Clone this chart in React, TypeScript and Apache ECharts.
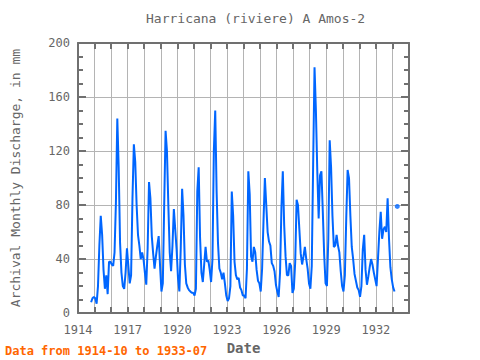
import React, { useEffect, useRef } from "react";
import * as echarts from "echarts";

// Monthly discharge (mm), first month = 1914-10
const START_YEAR = 1914;
const START_MONTH = 10;
const v1914 = [8, 11, 12];
const v1915 = [11, 7, 20, 50, 72, 58, 32, 18, 28, 14, 38, 38];
const v1916 = [36, 35, 45, 82, 144, 108, 52, 30, 20, 18, 30, 48];
const v1917 = [35, 22, 28, 85, 125, 112, 80, 58, 50, 40, 45, 40];
const v1918 = [30, 21, 48, 97, 85, 57, 44, 33, 42, 50, 57, 35];
const v1919 = [16, 22, 80, 135, 120, 80, 45, 31, 50, 77, 62, 47];
const v1920 = [26, 16, 48, 92, 72, 36, 22, 19, 17, 16, 15, 15];
const v1921 = [13, 18, 90, 108, 56, 30, 23, 36, 49, 38, 39, 32];
const v1922 = [23, 40, 120, 150, 90, 52, 33, 30, 25, 30, 22, 13];
const v1923 = [9, 11, 20, 90, 72, 38, 28, 25, 26, 19, 17, 13];
const v1924 = [13, 11, 33, 105, 88, 42, 38, 49, 45, 32, 24, 22];
const v1925 = [16, 33, 68, 100, 80, 60, 53, 50, 37, 35, 31, 21];
const v1926 = [16, 12, 30, 78, 105, 65, 42, 28, 28, 37, 35, 15];
const v1927 = [18, 38, 84, 80, 62, 44, 36, 42, 49, 40, 33, 22];
const v1928 = [18, 35, 110, 182, 150, 105, 70, 102, 105, 75, 43, 22];
const v1929 = [20, 55, 128, 108, 72, 49, 50, 58, 50, 45, 31, 20];
const v1930 = [16, 28, 70, 106, 100, 72, 49, 40, 29, 24, 19, 17];
const v1931 = [12, 20, 47, 58, 32, 21, 27, 34, 40, 36, 30, 25];
const v1932 = [20, 40, 60, 75, 55, 62, 64, 60, 85, 55, 34, 25];
const v1933 = [19, 16, null, 79, null, null, null];

const yearLabels = [1914, 1917, 1920, 1923, 1926, 1929, 1932];

const allValues: (number | null)[] = [
  ...v1914, ...v1915, ...v1916, ...v1917, ...v1918, ...v1919, ...v1920,
  ...v1921, ...v1922, ...v1923, ...v1924, ...v1925, ...v1926, ...v1927,
  ...v1928, ...v1929, ...v1930, ...v1931, ...v1932, ...v1933,
];

function buildData() {
  const line: [number, number | null][] = [];
  allValues.forEach((v, i) => {
    const m = START_MONTH - 1 + i;
    const yr = START_YEAR + Math.floor(m / 12);
    const mo = m % 12;
    line.push([yr + (mo + 0.5) / 12, v]);
  });
  const isolated: [number, number][] = [];
  line.forEach((p, i) => {
    const prev = i > 0 ? line[i - 1][1] : null;
    const next = i < line.length - 1 ? line[i + 1][1] : null;
    if (p[1] != null && prev == null && next == null) isolated.push([p[0], p[1] as number]);
  });
  return { line, isolated };
}

const FONT = "DejaVu Sans Mono";
const FRAME = "#707070";
const GRIDC = "#b4b4b4";
const TXT = "#666666";
const BLUE = "#0066ff";

export default function App() {
  const ref = useRef<HTMLDivElement>(null);
  useEffect(() => {
    if (!ref.current) return;
    const chart = echarts.init(ref.current, undefined, { renderer: "svg" });
    const { line, isolated } = buildData();
    const xCommon = {
      type: "value" as const,
      min: 1914,
      max: 1934,
      interval: 1,
      axisLine: { show: true, onZero: false, lineStyle: { color: FRAME, width: 2 } },
      axisTick: { show: true, inside: true, length: 6, lineStyle: { color: FRAME, width: 2 } },
    };
    const yCommon = {
      type: "value" as const,
      min: 0,
      max: 200,
      interval: 40,
      axisLine: { show: true, lineStyle: { color: FRAME, width: 2 } },
      axisTick: { show: true, inside: true, length: 8, lineStyle: { color: FRAME, width: 2 } },
      minorTick: { show: true, splitNumber: 4, length: 5, lineStyle: { color: FRAME, width: 2 } },
    };
    chart.setOption({
      animation: false,
      backgroundColor: "#ffffff",
      title: {
        text: "Harricana (riviere) A Amos-2",
        left: 141,
        top: 7,
        textStyle: { fontFamily: FONT, fontSize: 13, fontWeight: "normal", color: TXT },
      },
      grid: { left: 78, right: 71, top: 43, bottom: 38 },
      xAxis: [
        {
          ...xCommon,
          position: "bottom",
          name: "Date",
          nameLocation: "middle",
          nameGap: 23,
          nameTextStyle: { fontFamily: FONT, fontSize: 14, fontWeight: "bold", color: TXT },
          axisLabel: {
            fontFamily: FONT,
            fontSize: 12,
            color: TXT,
            margin: 11,
            formatter: (v: number) => (yearLabels.includes(Math.round(v)) ? String(Math.round(v)) : ""),
          },
          splitLine: { show: true, lineStyle: { color: GRIDC, width: 1 } },
        },
        {
          ...xCommon,
          position: "top",
          axisLabel: { show: false },
          splitLine: { show: false },
        },
      ],
      yAxis: [
        {
          ...yCommon,
          position: "left",
          name: "Archival Monthly Discharge, in mm",
          nameLocation: "middle",
          nameGap: 56,
          nameTextStyle: { fontFamily: FONT, fontSize: 13, color: TXT },
          axisLabel: { fontFamily: FONT, fontSize: 12, color: TXT, margin: 8 },
          splitLine: { show: true, lineStyle: { color: GRIDC, width: 1 } },
        },
        {
          ...yCommon,
          position: "right",
          axisLabel: { show: false },
          splitLine: { show: false },
        },
      ],
      graphic: [
        {
          type: "text",
          left: 5,
          top: 345,
          style: {
            text: "Data from 1914-10 to 1933-07",
            fontFamily: FONT,
            fontSize: 12,
            fontWeight: "bold",
            fill: "#ff6600",
          },
        },
      ],
      series: [
        {
          type: "line",
          data: line,
          showSymbol: false,
          connectNulls: false,
          lineStyle: { color: BLUE, width: 2 },
          itemStyle: { color: BLUE },
        },
        {
          type: "scatter",
          data: isolated,
          symbol: "circle",
          symbolSize: 5,
          itemStyle: { color: BLUE },
        },
      ],
    });
    return () => chart.dispose();
  }, []);
  return <div ref={ref} style={{ width: 480, height: 360, position: "absolute", left: 0, top: 0 }} />;
}
